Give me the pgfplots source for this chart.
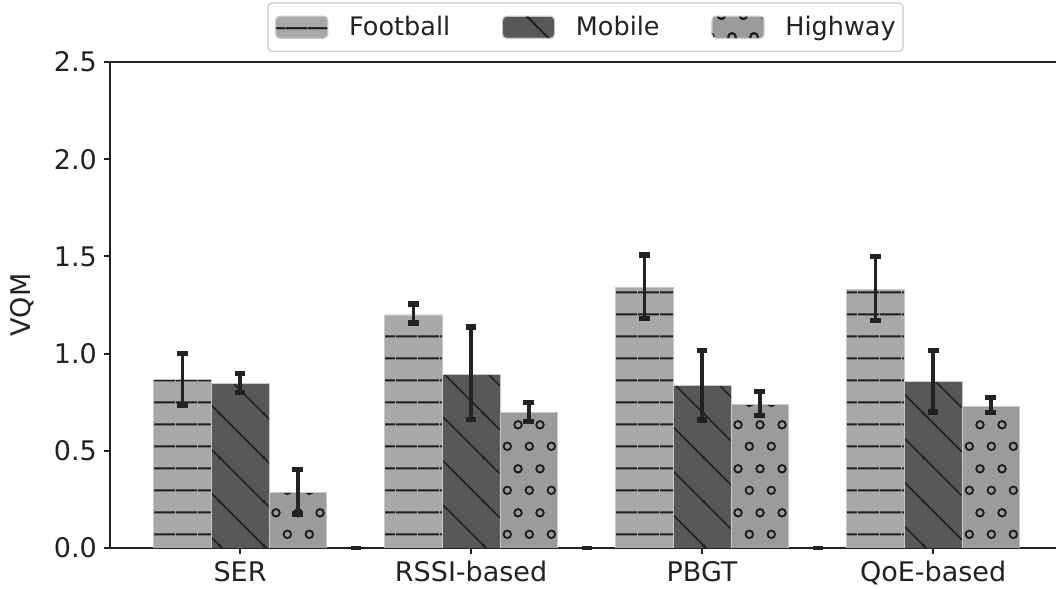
\documentclass[border=0pt]{standalone}
\usepackage{fontspec}
\setmainfont{DejaVu Sans}
\usepackage{pgfplots}
\pgfplotsset{compat=1.18}
\usetikzlibrary{patterns.meta}

\definecolor{fbgray}{RGB}{168,168,171}
\definecolor{mbgray}{RGB}{88,88,90}
\definecolor{hwgray}{RGB}{155,155,158}
\definecolor{patdark}{RGB}{30,30,30}
\definecolor{txt}{RGB}{34,34,34}
\definecolor{edgec}{RGB}{200,200,202}

\pgfdeclarepattern{
  name=hlinesF, type=uncolored,
  bottom left={\pgfpoint{0pt}{0pt}}, top right={\pgfpoint{11pt}{11pt}},
  tile size={\pgfpoint{11pt}{11pt}},
  code={\pgfsetlinewidth{1pt}
    \pgfpathmoveto{\pgfpoint{0pt}{5.5pt}}\pgfpathlineto{\pgfpoint{11pt}{5.5pt}}\pgfusepath{stroke}}
}
\pgfdeclarepattern{
  name=dlinesM, type=uncolored,
  bottom left={\pgfpoint{0pt}{0pt}}, top right={\pgfpoint{22pt}{22pt}},
  tile size={\pgfpoint{22pt}{22pt}},
  code={\pgfsetlinewidth{0.75pt}
    \pgfpathmoveto{\pgfpoint{-1pt}{23pt}}\pgfpathlineto{\pgfpoint{23pt}{-1pt}}
    \pgfpathmoveto{\pgfpoint{-1pt}{1pt}}\pgfpathlineto{\pgfpoint{1pt}{-1pt}}
    \pgfpathmoveto{\pgfpoint{21pt}{23pt}}\pgfpathlineto{\pgfpoint{23pt}{21pt}}
    \pgfusepath{stroke}}
}
\pgfdeclarepattern{
  name=circH, type=uncolored,
  bottom left={\pgfpoint{0pt}{0pt}}, top right={\pgfpoint{10.85pt}{21.7pt}},
  tile size={\pgfpoint{10.85pt}{21.7pt}},
  code={\pgfsetlinewidth{0.95pt}
    \pgfpathcircle{\pgfpoint{2.7pt}{5.4pt}}{1.9pt}
    \pgfpathcircle{\pgfpoint{8.125pt}{16.25pt}}{1.9pt}
    \pgfusepath{stroke}}
}

\newcommand{\fs}{\fontsize{13.5}{16}\selectfont}
\newcommand{\fl}{\fontsize{12.75}{15}\selectfont}

\begin{document}
\begin{tikzpicture}
\useasboundingbox (0,0) rectangle (528pt,294.5pt);
\begin{axis}[
  at={(55pt,20.5pt)}, anchor=south west,
  scale only axis, width=473pt, height=243pt,
  xmin=-0.563, xmax=3.532, ymin=0, ymax=2.5,
  axis lines*=left,
  axis line style={line width=1pt, txt},
  tick align=outside,
  major tick length=3pt,
  tick style={line width=1pt, txt},
  xtick={0,1,2,3},
  xticklabels={SER,RSSI-based,PBGT,QoE-based},
  ytick={0,0.5,1,1.5,2,2.5},
  yticklabel style={/pgf/number format/.cd, fixed, fixed zerofill, precision=1, assume math mode=true},
  every tick label/.append style={font=\fs, text=txt},
  ylabel={VQM},
  ylabel shift=3pt,
  ylabel style={font=\fs, text=txt},
  legend columns=3,
  legend style={at={(0.5,1)}, anchor=south, yshift=5pt, xshift=1.25pt,
    draw=black!20, rounded corners=2pt, line width=0.6pt, font=\fl, text=txt,
    inner xsep=3.75pt, inner ysep=4.5pt,
    nodes={inner xsep=0pt},
    /tikz/every odd column/.append style={column sep=10.5pt},
    /tikz/every even column/.append style={column sep=26pt}},
]
\addplot[ybar, bar width=0.25, bar shift=0pt, fill=fbgray, draw=edgec, line width=0.4pt,
  postaction={pattern={hlinesF}, pattern color=patdark},
  legend image code/.code={\path[fill=fbgray, postaction={pattern={hlinesF}, pattern color=patdark}] (0pt,-5.5pt) rectangle (26pt,5.5pt);}]
  coordinates {(-0.25,0.869) (0.75,1.199) (1.75,1.339) (2.75,1.331)};
\addlegendentry{Football}
\addplot[ybar, bar width=0.25, bar shift=0pt, fill=mbgray, draw=edgec, line width=0.4pt,
  postaction={pattern={dlinesM}, pattern color=patdark},
  legend image code/.code={\path[fill=mbgray, postaction={pattern={dlinesM}, pattern color=patdark}] (0pt,-5.5pt) rectangle (26pt,5.5pt);}]
  coordinates {(0,0.845) (1,0.895) (2,0.835) (3,0.855)};
\addlegendentry{Mobile}
\addplot[ybar, bar width=0.25, bar shift=0pt, fill=hwgray, draw=edgec, line width=0.4pt,
  postaction={pattern={circH}, pattern color=patdark},
  legend image code/.code={\path[fill=hwgray, postaction={pattern={circH}, pattern color=patdark}] (0pt,-5.5pt) rectangle (26pt,5.5pt);}]
  coordinates {(0.25,0.288) (1.25,0.696) (2.25,0.737) (3.25,0.729)};
\addlegendentry{Highway}

\pgfplotsset{errstyle/.style={draw=none, mark=none, forget plot,
  error bars/.cd, y dir=both, y explicit,
  error bar style={line width=1.8pt, draw=txt, solid},
  error mark options={rotate=90, mark size=2.7pt, line width=2.6pt, draw=txt, solid}}}
\addplot[errstyle] coordinates {(-0.25,0.868) +- (0,0.133) (0.75,1.206) +- (0,0.049) (1.75,1.343) +- (0,0.164) (2.75,1.334) +- (0,0.165)};
\addplot[errstyle] coordinates {(0,0.848) +- (0,0.048) (1,0.90) +- (0,0.237) (2,0.836) +- (0,0.178) (3,0.857) +- (0,0.157)};
\addplot[errstyle] coordinates {(0.25,0.29) +- (0,0.115) (1.25,0.70) +- (0,0.05) (2.25,0.742) +- (0,0.062) (3.25,0.734) +- (0,0.039)};
\addplot[only marks, mark=-, mark size=2.5pt, mark options={line width=2.2pt, draw=txt}, forget plot]
  coordinates {(0.5,0) (1.5,0) (2.5,0)};
\draw[line width=1pt, txt] (rel axis cs:0,1) -- (rel axis cs:1,1);
\end{axis}
\end{tikzpicture}
\end{document}
